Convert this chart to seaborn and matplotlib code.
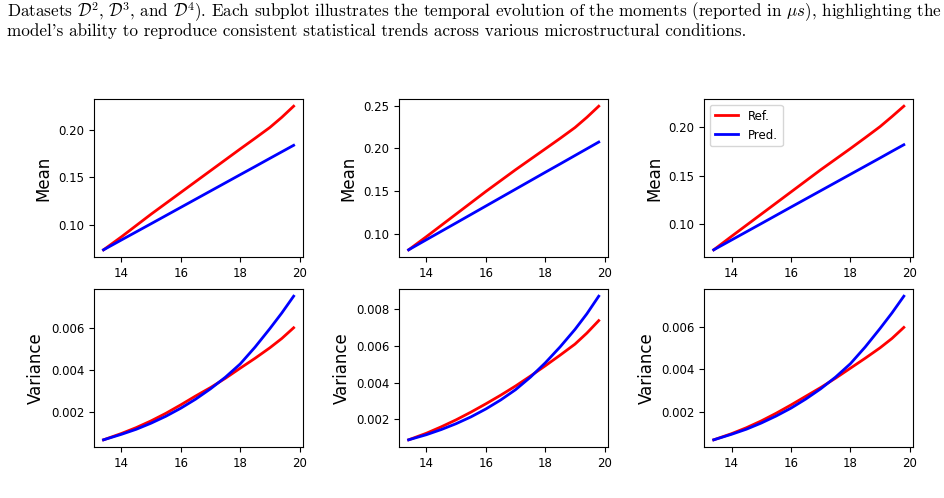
import numpy as np
import pandas as pd
import matplotlib
matplotlib.use("Agg")
import matplotlib.pyplot as plt
import seaborn as sns

# time axis (us)
x_mean = [13.4, 14, 15, 16, 17, 18, 18.5, 19, 19.4, 19.8]
x_var = [13.4, 14, 14.5, 15, 15.5, 16, 16.5, 17, 17.5, 18, 18.5, 19, 19.4, 19.8]

# mean, datasets D2 / D3 / D4
mean_ref_d2 = [0.0733, 0.087, 0.111, 0.134, 0.157, 0.180, 0.1913, 0.2028, 0.2135, 0.2253]
mean_pred_d2 = [0.0733, 0.0837, 0.1009, 0.1182, 0.1355, 0.1528, 0.1614, 0.1701, 0.1770, 0.1839]
mean_ref_d3 = [0.081, 0.0965, 0.1230, 0.1495, 0.1750, 0.1995, 0.2118, 0.2245, 0.2365, 0.2496]
mean_pred_d3 = [0.081, 0.0929, 0.1126, 0.1324, 0.1522, 0.1720, 0.1818, 0.1917, 0.1996, 0.2075]
mean_ref_d4 = [0.073, 0.087, 0.110, 0.133, 0.156, 0.178, 0.1893, 0.2008, 0.2112, 0.222]
mean_pred_d4 = [0.073, 0.0832, 0.1002, 0.1173, 0.1343, 0.1513, 0.1598, 0.1683, 0.1752, 0.182]

# variance, datasets D2 / D3 / D4
var_ref_d2 = [0.00070, 0.00100, 0.00128, 0.00160, 0.00196, 0.00236, 0.00278,
              0.00318, 0.00362, 0.00410, 0.00457, 0.00507, 0.00551, 0.00602]
var_pred_d2 = [0.00070, 0.00096, 0.00120, 0.00149, 0.00182, 0.00220, 0.00263,
               0.00312, 0.00367, 0.00430, 0.00510, 0.00598, 0.00672, 0.00752]
var_ref_d3 = [0.00089, 0.00125, 0.00160, 0.00198, 0.00240, 0.00285, 0.00332,
              0.00382, 0.00436, 0.00492, 0.00550, 0.00610, 0.00670, 0.00738]
var_pred_d3 = [0.00089, 0.00117, 0.00145, 0.00177, 0.00214, 0.00257, 0.00306,
               0.00362, 0.00430, 0.00508, 0.00595, 0.00690, 0.00775, 0.00871]
var_ref_d4 = [0.00068, 0.00097, 0.00125, 0.00157, 0.00193, 0.00232, 0.00273,
              0.00314, 0.00358, 0.00405, 0.00452, 0.00501, 0.00545, 0.00597]
var_pred_d4 = [0.00068, 0.00094, 0.00118, 0.00147, 0.00180, 0.00217, 0.00260,
               0.00308, 0.00363, 0.00426, 0.00505, 0.00592, 0.00665, 0.00744]

series_names = ["Ref.", "Pred."]
palette = {"Ref.": "red", "Pred.": "blue"}

caption_1 = (r"Datasets $\mathcal{D}^2$, $\mathcal{D}^3$, and $\mathcal{D}^4$). Each subplot "
             r"illustrates the temporal evolution of the moments (reported in $\mu s$), "
             r"highlighting the")
caption_2 = ("model's ability to reproduce consistent statistical trends across various "
             "microstructural conditions.")

plt.rcParams["mathtext.fontset"] = "cm"
plt.rcParams["xtick.labelsize"] = 8.5
plt.rcParams["ytick.labelsize"] = 8.5


def long_df(x, ref, pred):
    return pd.DataFrame({
        "t": list(x) * 2,
        "value": list(ref) + list(pred),
        "series": ["Ref."] * len(ref) + ["Pred."] * len(pred),
    })


panels = [
    (0, 0, x_mean, mean_ref_d2, mean_pred_d2, "Mean"),
    (0, 1, x_mean, mean_ref_d3, mean_pred_d3, "Mean"),
    (0, 2, x_mean, mean_ref_d4, mean_pred_d4, "Mean"),
    (1, 0, x_var, var_ref_d2, var_pred_d2, "Variance"),
    (1, 1, x_var, var_ref_d3, var_pred_d3, "Variance"),
    (1, 2, x_var, var_ref_d4, var_pred_d4, "Variance"),
]

fig, axes = plt.subplots(2, 3, figsize=(9.45, 4.98), dpi=100)
fig.subplots_adjust(left=0.0995, right=0.9665, top=0.8012, bottom=0.1024,
                    wspace=0.459, hspace=0.2025)

for r, c, x, ref, pred, lab in panels:
    ax = axes[r, c]
    sns.lineplot(data=long_df(x, ref, pred), x="t", y="value", hue="series",
                 hue_order=series_names, palette=palette, linewidth=2,
                 legend=False, ax=ax)
    ax.set_xlabel("")
    ax.set_ylabel(lab, fontsize=12)
    ax.set_xticks([14, 16, 18, 20])
    if lab == "Variance":
        ax.yaxis.set_major_formatter(plt.FormatStrFormatter("%.3f"))
    else:
        ax.yaxis.set_major_formatter(plt.FormatStrFormatter("%.2f"))

leg_ax = axes[0, 2]
leg_ax.legend(leg_ax.get_lines()[:2], series_names, loc="upper left", fontsize=8.5)

cap_family = ["cmr10", "DejaVu Serif"]
fig.text(0.0074, 1 - 12 / 498, caption_1, family=cap_family, fontsize=12.3, va="center")
fig.text(0.0074, 1 - 31 / 498, caption_2, family=cap_family, fontsize=12.3, va="center")

plt.savefig("out.png", dpi=100)
plt.close()
